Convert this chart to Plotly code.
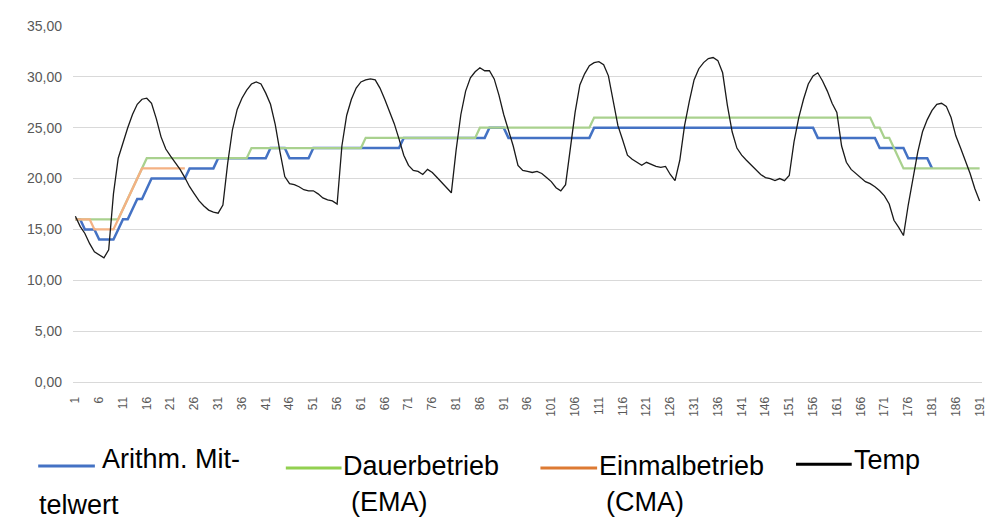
import plotly.graph_objects as go

# ---------------- data ----------------
categories = list(range(1, 192))

temp = [
    16.3, 15.3, 14.6, 13.6, 12.8, 12.5, 12.2, 13.0, 18.5, 22.0,
    23.6, 25.0, 26.3, 27.3, 27.8, 27.9, 27.4, 25.9, 24.1, 22.9,
    22.2, 21.6, 20.9, 20.1, 19.2, 18.5, 17.8, 17.3, 16.9, 16.7,
    16.6, 17.4, 21.5, 24.8, 26.8, 27.9, 28.7, 29.3, 29.5, 29.3,
    28.4, 27.3, 25.3, 22.6, 20.2, 19.5, 19.4, 19.2, 18.9, 18.8,
    18.8, 18.5, 18.1, 17.9, 17.8, 17.5, 23.2, 26.2, 27.8, 28.9,
    29.5, 29.7, 29.8, 29.7, 28.9, 27.8, 26.6, 25.4, 23.9, 22.3,
    21.3, 20.8, 20.7, 20.4, 20.9, 20.6, 20.1, 19.6, 19.1, 18.6,
    22.8, 26.3, 28.6, 29.9, 30.5, 30.9, 30.6, 30.6, 29.8, 28.2,
    26.3, 24.7, 23.2, 21.3, 20.8, 20.7, 20.6, 20.7, 20.5, 20.1,
    19.7, 19.1, 18.8, 19.4, 23.0, 26.5, 29.2, 30.3, 31.1, 31.4,
    31.5, 31.2, 30.1, 27.8, 25.2, 23.8, 22.3, 21.9, 21.6, 21.3,
    21.6, 21.4, 21.2, 21.1, 21.2, 20.4, 19.8, 21.8, 25.2, 27.6,
    29.7, 30.8, 31.4, 31.8, 31.9, 31.6, 30.4, 27.2, 24.6, 23.0,
    22.3, 21.8, 21.3, 20.8, 20.4, 20.1, 20.0, 19.8, 20.0, 19.8,
    20.3, 23.6, 26.0, 27.8, 29.3, 30.1, 30.4, 29.6, 28.6, 27.4,
    26.5, 23.2, 21.6, 20.9, 20.5, 20.1, 19.7, 19.5, 19.2, 18.8,
    18.3, 17.5, 15.9, 15.2, 14.4, 17.4, 20.1, 22.6, 24.6, 25.8,
    26.7, 27.3, 27.4, 27.1, 26.0, 24.2, 23.0, 21.8, 20.5, 19.0,
    17.8,
]

arithm_mittelwert = [
    16, 16, 15, 15, 15, 14, 14, 14, 14, 15,
    16, 16, 17, 18, 18, 19, 20, 20, 20, 20,
    20, 20, 20, 20, 21, 21, 21, 21, 21, 21,
    22, 22, 22, 22, 22, 22, 22, 22, 22, 22,
    22, 23, 23, 23, 23, 22, 22, 22, 22, 22,
    23, 23, 23, 23, 23, 23, 23, 23, 23, 23,
    23, 23, 23, 23, 23, 23, 23, 23, 23, 24,
    24, 24, 24, 24, 24, 24, 24, 24, 24, 24,
    24, 24, 24, 24, 24, 24, 24, 25, 25, 25,
    25, 24, 24, 24, 24, 24, 24, 24, 24, 24,
    24, 24, 24, 24, 24, 24, 24, 24, 24, 25,
    25, 25, 25, 25, 25, 25, 25, 25, 25, 25,
    25, 25, 25, 25, 25, 25, 25, 25, 25, 25,
    25, 25, 25, 25, 25, 25, 25, 25, 25, 25,
    25, 25, 25, 25, 25, 25, 25, 25, 25, 25,
    25, 25, 25, 25, 25, 25, 24, 24, 24, 24,
    24, 24, 24, 24, 24, 24, 24, 24, 24, 23,
    23, 23, 23, 23, 23, 22, 22, 22, 22, 22,
    21,
]

dauerbetrieb_ema = [
    16, 16, 16, 16, 16, 16, 16, 16, 16, 16,
    17, 18, 19, 20, 21, 22, 22, 22, 22, 22,
    22, 22, 22, 22, 22, 22, 22, 22, 22, 22,
    22, 22, 22, 22, 22, 22, 22, 23, 23, 23,
    23, 23, 23, 23, 23, 23, 23, 23, 23, 23,
    23, 23, 23, 23, 23, 23, 23, 23, 23, 23,
    23, 24, 24, 24, 24, 24, 24, 24, 24, 24,
    24, 24, 24, 24, 24, 24, 24, 24, 24, 24,
    24, 24, 24, 24, 24, 25, 25, 25, 25, 25,
    25, 25, 25, 25, 25, 25, 25, 25, 25, 25,
    25, 25, 25, 25, 25, 25, 25, 25, 25, 26,
    26, 26, 26, 26, 26, 26, 26, 26, 26, 26,
    26, 26, 26, 26, 26, 26, 26, 26, 26, 26,
    26, 26, 26, 26, 26, 26, 26, 26, 26, 26,
    26, 26, 26, 26, 26, 26, 26, 26, 26, 26,
    26, 26, 26, 26, 26, 26, 26, 26, 26, 26,
    26, 26, 26, 26, 26, 26, 26, 26, 25, 25,
    24, 24, 23, 22, 21, 21, 21, 21, 21, 21,
    21, 21, 21, 21, 21, 21, 21, 21, 21, 21,
    21,
]

einmalbetrieb_cma = [
    16, 16, 16, 16, 15, 15, 15, 15, 15, 16,
    17, 18, 19, 20, 21, 21, 21, 21, 21, 21,
    21, 21, 21, 21,
]

y_ticks = [0, 5, 10, 15, 20, 25, 30, 35]
x_ticks = list(range(1, 192, 5))

# ---------------- styling ----------------
OFF = 8                      # page body margin in the browser
W, H = 997 - OFF, 525 - OFF
L, T = 73 - OFF, 18 - OFF
PW, PH = 914, 364
R, B = W - L - PW, H - T - PH

line_colors = ["#4472C4", "#A9D18E", "#F4B183", "#1A1A1A"]
legend_colors = ["#4472C4", "#92D050", "#DD7A33", "#000000"]

fig = go.Figure()
fig.add_trace(go.Scatter(x=categories[:len(arithm_mittelwert)], y=arithm_mittelwert, mode="lines",
                         line=dict(color=line_colors[0], width=2.5), name="Arithm. Mittelwert"))
fig.add_trace(go.Scatter(x=categories[:len(dauerbetrieb_ema)], y=dauerbetrieb_ema, mode="lines",
                         line=dict(color=line_colors[1], width=2.25), name="Dauerbetrieb (EMA)"))
fig.add_trace(go.Scatter(x=categories[:len(einmalbetrieb_cma)], y=einmalbetrieb_cma, mode="lines",
                         line=dict(color=line_colors[2], width=2.25), name="Einmalbetrieb (CMA)"))
fig.add_trace(go.Scatter(x=categories[:len(temp)], y=temp, mode="lines",
                         line=dict(color=line_colors[3], width=1.3), name="Temp"))


# convert screenshot pixel positions to paper coordinates
def px_x(px):
    return (px - OFF - L) / PW


def px_y(py):
    return (T + PH - (py - OFF)) / PH


legend_items = [
    (38, 95, 468, [("Arithm. Mit-", 100, 461), ("telwert", 37, 508)]),
    (287, 343, 470, [("Dauerbetrieb", 342, 468), ("(EMA)", 351, 505)]),
    (543, 600, 470, [("Einmalbetrieb", 600, 468), ("(CMA)", 607, 505)]),
    (800, 856, 466, [("Temp", 856, 462)]),
]
shapes = []
annotations = []
for k, (x0, x1, sy, texts) in enumerate(legend_items):
    shapes.append(dict(type="line", xref="paper", yref="paper",
                       x0=px_x(x0), x1=px_x(x1), y0=px_y(sy), y1=px_y(sy),
                       line=dict(color=legend_colors[k], width=3)))
    for txt, tx, ty in texts:
        annotations.append(dict(text=txt, xref="paper", yref="paper",
                                x=px_x(tx), y=px_y(ty), xanchor="left", yanchor="middle",
                                showarrow=False,
                                font=dict(family="Liberation Sans, Arial, sans-serif", size=27, color="#000000")))

fig.update_layout(
    width=W, height=H,
    margin=dict(l=L, r=R, t=T, b=B, pad=0),
    paper_bgcolor="white", plot_bgcolor="white",
    showlegend=False,
    separators=", ",
    shapes=shapes,
    annotations=annotations,
    xaxis=dict(
        range=[0.5, 191.5], tickmode="array", tickvals=x_ticks,
        ticktext=[str(v) for v in x_ticks], tickangle=-90,
        showgrid=False, zeroline=False, showline=True, linecolor="#D9D9D9", linewidth=1,
        ticks="", ticklabelstandoff=9,
        tickfont=dict(family="Liberation Sans, Arial, sans-serif", size=12, color="#595959"),
    ),
    yaxis=dict(
        range=[0, 35], tickmode="array", tickvals=y_ticks, tickformat=".2f",
        showgrid=True, gridcolor="#D9D9D9", gridwidth=1, zeroline=False, showline=False,
        ticks="", ticklabelstandoff=10,
        tickfont=dict(family="Liberation Sans, Arial, sans-serif", size=14, color="#595959"),
    ),
)

fig.write_html("out.html")
